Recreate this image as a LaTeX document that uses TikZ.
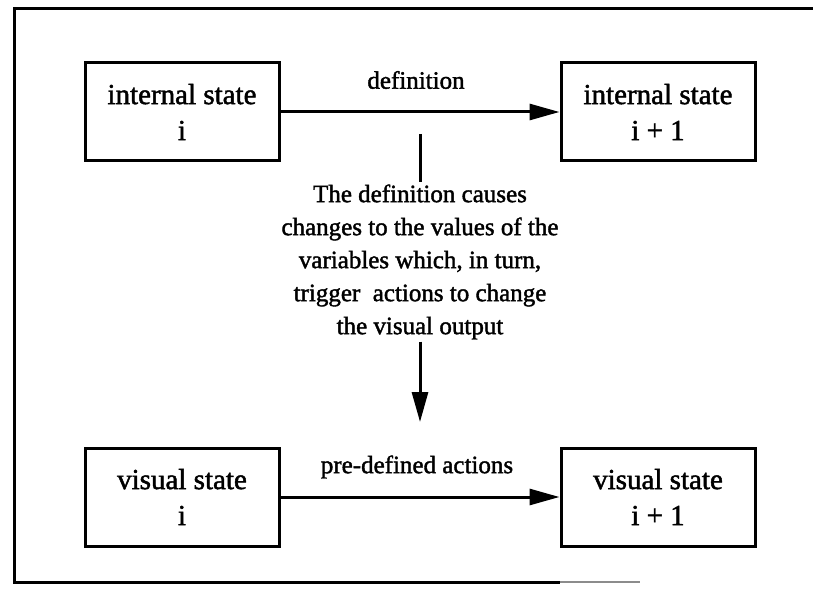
\documentclass[tikz,border=0pt]{standalone}
\usepackage{fontspec}
\setmainfont{Liberation Serif}[BoldFont={Liberation Serif}, BoldFeatures={FakeBold=1.6}]
\usetikzlibrary{arrows.meta}

\tikzstyle{state-box}=[draw, line width=3pt, minimum width=194pt, minimum height=98pt, align=center, font=\fontsize{29}{36}\selectfont\bfseries]
\tikzstyle{flow-arrow}=[line width=3pt, -{Triangle[length=30pt, width=16pt]}]
\tikzstyle{flow-label}=[align=center, inner sep=2pt, font=\fontsize{25}{33}\selectfont\bfseries]

\begin{document}
\begin{tikzpicture}[x=1pt, y=-1pt]
       \useasboundingbox (0,0) rectangle (813,593);
       \draw[line width=3pt] (813,9) -- (14,9) -- (14,582) -- (560,582);
       \draw[line width=2pt, black!45] (560,582) -- (640,582);

       \node (int0) at (182, 112) [state-box] {internal state\\i};
       \node (int1) at (658, 112) [state-box] {internal state\\i + 1};
       \node (vis0) at (182, 497) [state-box] {visual state\\i};
       \node (vis1) at (658, 497) [state-box] {visual state\\i + 1};

       \node (def-label) at (416, 80) [flow-label] {definition};
       \node (act-label) at (417, 467) [flow-label] {pre-defined actions};
       \node (note) at (420, 262) [flow-label]
             {The definition causes\\changes to the values of the\\variables which, in turn,\\trigger\ \ actions to change\\the visual output};

       \coordinate (note-top) at (420, 134);
       \coordinate (note-end) at (420, 422);

       \draw[flow-arrow] (int0) -- (int1);
       \draw[flow-arrow] (vis0) -- (vis1);
       \draw[line width=3pt] (note-top) -- (note.north);
       \draw[flow-arrow] (note.south) -- (note-end);
    \end{tikzpicture}
\end{document}
